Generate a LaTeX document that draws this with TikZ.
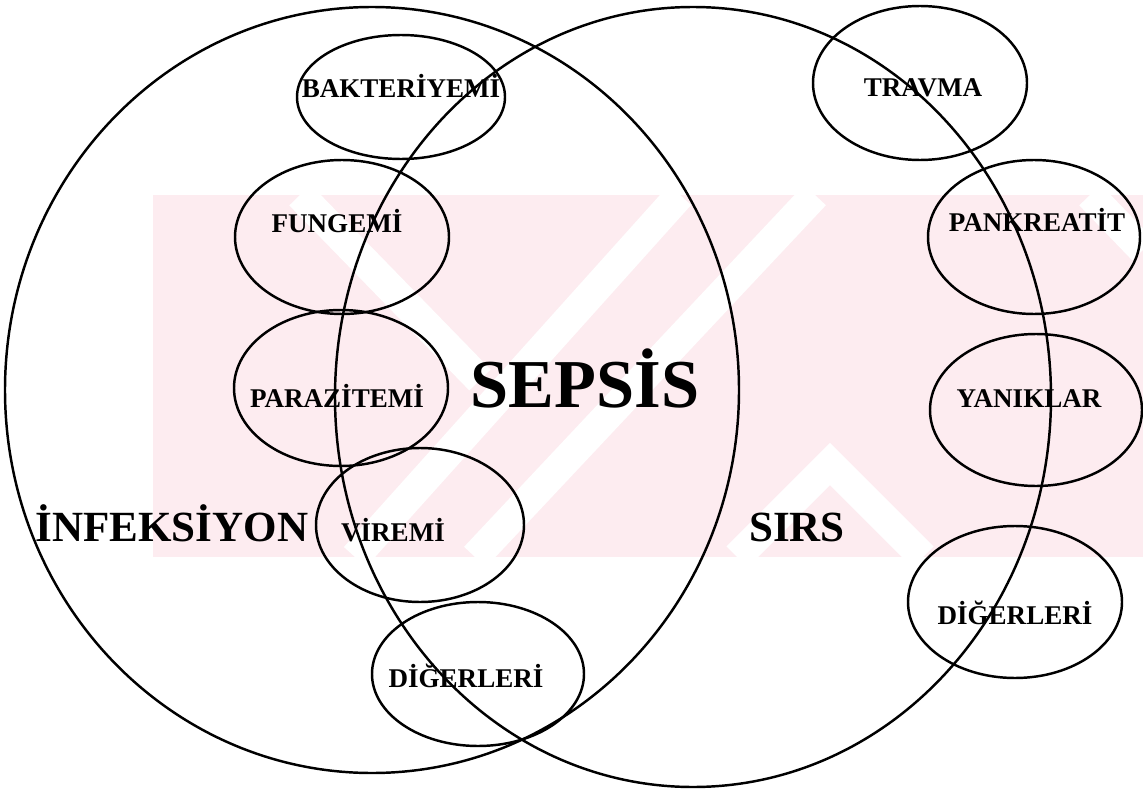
\documentclass[tikz,border=0pt]{standalone}
\usepackage{fontspec}
\setmainfont{Liberation Serif}
\usepackage{tikz}

\definecolor{damga}{RGB}{253,236,240}
\tikzset{
  buyuk/.style={draw=black, line width=1.4pt},
  kucuk/.style={draw=black, line width=1.4pt},
  etiket/.style={font=\bfseries\fontsize{15.4}{16}\selectfont, inner sep=0pt, anchor=base},
  baslik/.style={font=\bfseries\fontsize{24.5}{26}\selectfont, inner sep=0pt, anchor=base},
  serit/.style={white, line width=17pt},
}

\begin{document}
\begin{tikzpicture}[x=0.02cm, y=-0.02cm]
\useasboundingbox (0,0) rectangle (1143,794);
% faint watermark behind the diagram
\begin{scope}
\clip (153,195) rectangle (1143,557);
\fill[damga] (153,195) rectangle (1143,557);
\draw[serit] (300,195) -- (480,380);
\draw[serit] (680,195) -- (355,557);
\draw[serit] (815,195) -- (475,557);
\draw[serit] (737,557) -- (830,464) -- (923,557);
\draw[serit] (1090,195) -- (1143,250);
\end{scope}
% the two big sets
\draw[buyuk] (372,390) ellipse [x radius=367, y radius=383];
\draw[buyuk] (693,397) ellipse [x radius=358, y radius=390];
% infection side
\draw[kucuk] (401,97) ellipse [x radius=104, y radius=62];
\draw[kucuk] (342,237) ellipse [x radius=107, y radius=77];
\draw[kucuk] (341,388) ellipse [x radius=107, y radius=78];
\draw[kucuk] (420,525) ellipse [x radius=104, y radius=77];
\draw[kucuk] (478,674) ellipse [x radius=106, y radius=72];
% sirs side
\draw[kucuk] (920,83) ellipse [x radius=107, y radius=77];
\draw[kucuk] (1034,237) ellipse [x radius=106, y radius=77];
\draw[kucuk] (1036,410) ellipse [x radius=106, y radius=76];
\draw[kucuk] (1015,602) ellipse [x radius=107, y radius=76];
% labels
\node[etiket] (bakteriyemi) at (401,98) {BAKTERİYEMİ};
\node[etiket] (fungemi) at (337,232) {FUNGEMİ};
\node[etiket] (parazitemi) at (337,407) {PARAZİTEMİ};
\node[etiket] (viremi) at (393,541) {VİREMİ};
\node[etiket] (digerleri1) at (466,687) {DİĞERLERİ};
\node[etiket] (travma) at (923,97) {TRAVMA};
\node[etiket] (pankreatit) at (1037,231) {PANKREATİT};
\node[etiket] (yaniklar) at (1029,407) {YANIKLAR};
\node[etiket] (digerleri2) at (1015,624) {DİĞERLERİ};
\node[baslik] (infeksiyon) at (172,541) {İNFEKSİYON};
\node[baslik] (sirs) at (797,541) {SIRS};
\node[baslik, font=\bfseries\fontsize{39}{40}\selectfont] (sepsis) at (585,407) {SEPSİS};
\end{tikzpicture}
\end{document}
